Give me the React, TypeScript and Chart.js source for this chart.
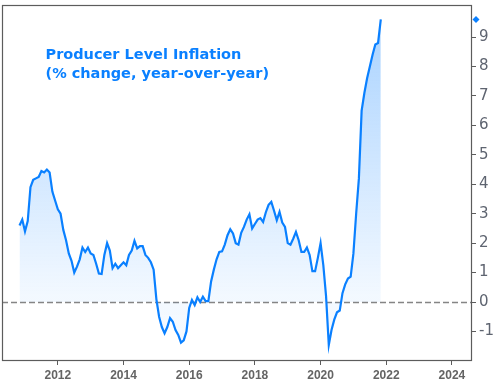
import { useEffect, useRef } from 'react';
import { Chart, registerables } from 'chart.js';

Chart.register(...registerables);

// ---- data (PPI, % change year-over-year, monthly from Nov 2010) ----
const startYear = 2010;
const startMonth = 11;
const ppiValues = [
  2.6, 2.8, 2.4, 2.75, 3.9, 4.15, 4.2, 4.25, 4.45, 4.4, 4.5, 4.4, // Nov10 - Oct11
  3.75, 3.45, 3.15, 3.0, 2.45, 2.1, 1.65, 1.4, 1.0, 1.2, 1.45, 1.85, // Nov11 - Oct12
  1.7, 1.85, 1.65, 1.6, 1.3, 0.97, 0.95, 1.6, 2.0, 1.75, 1.15, 1.3, // Nov12 - Oct13
  1.15, 1.25, 1.35, 1.25, 1.6, 1.75, 2.08, 1.82, 1.9, 1.9, 1.6, 1.5, // Nov13 - Oct14
  1.35, 1.1, 0.1, -0.5, -0.85, -1.06, -0.85, -0.55, -0.67, -0.95, -1.12, -1.38, // Nov14 - Oct15
  -1.3, -1.0, -0.2, 0.07, -0.1, 0.16, 0.0, 0.18, 0.03, 0.03, 0.7, 1.1, // Nov15 - Oct16
  1.45, 1.7, 1.72, 1.95, 2.27, 2.47, 2.33, 2.0, 1.95, 2.35, 2.55, 2.8, // Nov16 - Oct17
  2.98, 2.5, 2.65, 2.8, 2.85, 2.72, 3.05, 3.3, 3.4, 3.1, 2.78, 3.06, // Nov17 - Oct18
  2.7, 2.55, 2.0, 1.95, 2.15, 2.38, 2.1, 1.7, 1.7, 1.85, 1.6, 1.05, // Nov18 - Oct19
  1.05, 1.5, 2.0, 1.25, 0.2, -1.46, -0.95, -0.6, -0.35, -0.29, 0.3, 0.6, // Nov19 - Oct20
  0.8, 0.86, 1.65, 3.0, 4.2, 6.5, 7.1, 7.6, 8.0, 8.4, 8.75, 8.8, // Nov20 - Oct21
  9.6, // Nov21
];
const xTickYears = [2012, 2014, 2016, 2018, 2020, 2022, 2024];
const yTickValues = [-1, 0, 1, 2, 3, 4, 5, 6, 7, 8, 9];
const titleLines = ['Producer Level Inflation', '(% change, year-over-year)'];

const xMin = 2010.3;
const xMax = 2024.58;
const yMin = -1.97;
const yMax = 10.09;

const LINE = '#0a80ff';
const AXIS = '#5c5c5c';
const TICK_TEXT = '#646464';

const overlayPlugin = {
  id: 'overlay',
  beforeDatasetsDraw(chart: any) {
    const { ctx, chartArea: a, scales } = chart;
    const y0 = Math.round(scales.y.getPixelForValue(0)) + 0.5;
    ctx.save();
    ctx.strokeStyle = '#858585';
    ctx.lineWidth = 1.5;
    ctx.setLineDash([6, 3]);
    ctx.beginPath();
    ctx.moveTo(a.left, y0);
    ctx.lineTo(a.right, y0);
    ctx.stroke();
    ctx.restore();
  },
  afterDraw(chart: any) {
    const { ctx, chartArea: a, scales } = chart;
    ctx.save();
    // frame
    ctx.strokeStyle = AXIS;
    ctx.lineWidth = 1.2;
    ctx.setLineDash([]);
    ctx.strokeRect(Math.round(a.left) + 0.5, Math.round(a.top) + 0.5,
      Math.round(a.right) - Math.round(a.left), Math.round(a.bottom) - Math.round(a.top));
    // last value diamond on the right axis
    const last = ppiValues[ppiValues.length - 1];
    const cy = scales.y.getPixelForValue(last);
    const cx = a.right + 5;
    ctx.fillStyle = LINE;
    ctx.beginPath();
    ctx.moveTo(cx, cy - 3.5);
    ctx.lineTo(cx + 3.5, cy);
    ctx.lineTo(cx, cy + 3.5);
    ctx.lineTo(cx - 3.5, cy);
    ctx.closePath();
    ctx.fill();
    // title
    ctx.fillStyle = LINE;
    ctx.font = 'bold 14.5px "DejaVu Sans"';
    ctx.textBaseline = 'alphabetic';
    ctx.textAlign = 'left';
    ctx.fillText(titleLines[0], a.left + 43.5, a.top + 54);
    ctx.fillText(titleLines[1], a.left + 43.5, a.top + 72.5);
    ctx.restore();
  },
};

export default function App() {
  const ref = useRef<HTMLCanvasElement>(null);
  useEffect(() => {
    const canvas = ref.current;
    if (!canvas) return;
    const points = ppiValues.map((v, i) => ({ x: startYear + (startMonth - 1 + i) / 12, y: v }));
    const chart = new Chart(canvas, {
      type: 'line',
      data: {
        datasets: [
          {
            data: points,
            borderColor: LINE,
            borderWidth: 2.2,
            pointRadius: 0,
            tension: 0,
            fill: 'origin',
            backgroundColor: (c: any) => {
              const area = c.chart.chartArea;
              if (!area) return 'rgba(10,128,255,0.15)';
              const g = c.chart.ctx.createLinearGradient(0, area.top, 0, area.bottom);
              g.addColorStop(0, 'rgba(10,128,255,0.36)');
              g.addColorStop(0.82, 'rgba(10,128,255,0.05)');
              g.addColorStop(1, 'rgba(10,128,255,0.03)');
              return g;
            },
          },
        ],
      },
      options: {
        responsive: false,
        animation: false,
        layout: { padding: { left: 2, top: 5, right: 0, bottom: 0 } },
        plugins: { legend: { display: false }, tooltip: { enabled: false } },
        scales: {
          x: {
            type: 'linear',
            min: xMin,
            max: xMax,
            afterBuildTicks: (s: any) => {
              s.ticks = xTickYears.map((v) => ({ value: v }));
            },
            afterFit: (s: any) => {
              s.height = 22;
              s.paddingLeft = 0;
              s.paddingRight = 0;
            },
            grid: { drawOnChartArea: false, drawTicks: true, tickLength: 5, color: AXIS },
            border: { display: false },
            ticks: {
              callback: (v: any) => String(v),
              font: { family: 'Liberation Sans', weight: 'bold', size: 12 },
              color: TICK_TEXT,
              padding: 3,
              maxRotation: 0,
              autoSkip: false,
            },
          },
          y: {
            type: 'linear',
            position: 'right',
            min: yMin,
            max: yMax,
            afterBuildTicks: (s: any) => {
              s.ticks = yTickValues.map((v) => ({ value: v }));
            },
            afterFit: (s: any) => {
              s.width = 28;
              s.paddingTop = 0;
              s.paddingBottom = 0;
            },
            grid: { drawOnChartArea: false, drawTicks: true, tickLength: 5, color: AXIS },
            border: { display: false },
            ticks: {
              callback: (v: any) => String(v),
              font: { family: 'DejaVu Sans', size: 15 },
              color: '#5e6470',
              padding: 3,
              autoSkip: false,
            },
          },
        },
      },
      plugins: [overlayPlugin],
    } as any);
    return () => chart.destroy();
  }, []);
  return (
    <div style={{ position: 'fixed', left: 0, top: 0, width: 499, height: 382, background: '#fff' }}>
      <canvas ref={ref} width={499} height={382} style={{ display: 'block' }} />
    </div>
  );
}
